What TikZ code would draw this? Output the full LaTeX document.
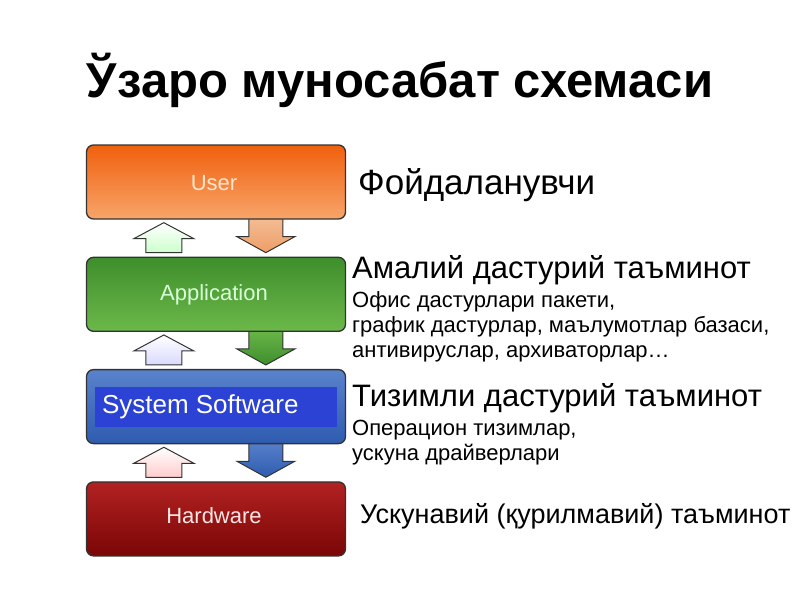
\documentclass[tikz,border=0pt]{standalone}
\usepackage{fontspec}
\setmainfont{Liberation Sans}
\usetikzlibrary{positioning,calc,backgrounds}

\definecolor{usertop}{HTML}{F0600E}
\definecolor{userbot}{HTML}{F7A56A}
\definecolor{apptop}{HTML}{3E8E2C}
\definecolor{appbot}{HTML}{6CB84A}
\definecolor{systop}{HTML}{5A82CC}
\definecolor{sysbot}{HTML}{2F5CB0}
\definecolor{sysin}{HTML}{2B42D4}
\definecolor{hwtop}{HTML}{B22222}
\definecolor{hwbot}{HTML}{7A0606}
\definecolor{edge}{HTML}{333333}
\definecolor{peach}{HTML}{F4BE98}
\definecolor{peachdk}{HTML}{EE9E66}

\begin{document}
\begin{tikzpicture}[x=1pt, y=-1pt]
			\tikzstyle{layer}   = [rounded corners=7pt, draw=edge, line width=1.3pt, minimum width=259pt, minimum height=74pt, inner sep=0pt]
			\tikzstyle{boxtext} = [font=\fontsize{22}{26}\selectfont]
			\tikzstyle{arrow}   = [draw=edge, line width=1pt, line join=miter]
			\tikzstyle{head}    = [font=\fontsize{31}{36}\selectfont, anchor=base west, inner sep=0pt]
			\tikzstyle{sub}     = [font=\fontsize{22}{26}\selectfont, anchor=base west, inner sep=0pt]

%			\draw[step=50, gray!30] (0,0) grid (800,600);
			\useasboundingbox (0,0) rectangle (800,600);

			\node[font=\bfseries\fontsize{49}{55}\selectfont, anchor=base, inner sep=0pt] (title) at (400,97) {Ўзаро муносабат схемаси};

			% the four layers
			\node[layer, top color=usertop, bottom color=userbot] (user) at (216,182) {};
			\node[layer, top color=apptop, bottom color=appbot, below=37pt of user] (app) {};
			\node[layer, top color=systop, bottom color=sysbot, below=37pt of app] (sys) {};
			\node[layer, top color=hwtop, bottom color=hwbot, below=37pt of sys] (hw) {};

			\node[boxtext, text=orange!20] (userlbl) at (214,183) {User};
			\node[boxtext, text=green!15!white] (applbl) at (214,295) {Application};
			\node[fill=sysin, minimum width=242pt, minimum height=40pt, inner sep=0pt] (sysin) at (sys) {};
			\node[font=\fontsize{26}{30}\selectfont, text=white, anchor=west, inner sep=0pt] (syslbl) at ($(sysin.west)+(7,0)$) {System Software};
			\node[boxtext, text=red!10!white] (hwlbl) at (214,516) {Hardware};

			% block arrows, behind the layers
			\begin{scope}[on background layer]
			\foreach \hi/\lo/\up/\dtop/\dbot in {user/app/green!20/peach/peachdk, app/sys/blue!15/appbot/apptop, sys/hw/red!20/systop/sysbot} {
				\path[arrow, top color=white, bottom color=\up] let \p1=(\hi.south west), \p2=(\lo.north west) in
					(\x1+60,\y2+4) -- (\x1+60,\y1-19) -- (\x1+48,\y1-19) -- (\x1+78,\y1-3)
					-- (\x1+108,\y1-19) -- (\x1+96,\y1-19) -- (\x1+96,\y2+4) -- cycle;
				\path[arrow, top color=\dtop, bottom color=\dbot] let \p1=(\hi.south west), \p2=(\lo.north west) in
					(\x1+163,\y1+4) -- (\x1+163,\y2+20) -- (\x1+151,\y2+20) -- (\x1+180,\y2+4)
					-- (\x1+209,\y2+20) -- (\x1+197,\y2+20) -- (\x1+197,\y1+4) -- cycle;
			}
			\end{scope}

			% what each layer is
			\node[head, font=\fontsize{35}{40}\selectfont] (usertxt) at (358,194) {Фойдаланувчи};

			\node[head] (apptxt) at (352,278) {Амалий дастурий таъминот};
			\foreach \i/\t in {1/{Офис дастурлари пакети,}, 2/{график дастурлар, маълумотлар базаси,}, 3/{антивируслар, архиваторлар…}}
				\node[sub] (appsub\i) at (352, 282+25*\i) {\t};

			\node[head] (systxt) at (352,406) {Тизимли дастурий таъминот};
			\foreach \i/\t in {1/{Операцион тизимлар,}, 2/{ускуна драйверлари}}
				\node[sub] (syssub\i) at (352, 410+25*\i) {\t};

			\node[head, font=\fontsize{27}{32}\selectfont] (hwtxt) at (360,523) {Ускунавий (қурилмавий) таъминот};

		\end{tikzpicture}
\end{document}
